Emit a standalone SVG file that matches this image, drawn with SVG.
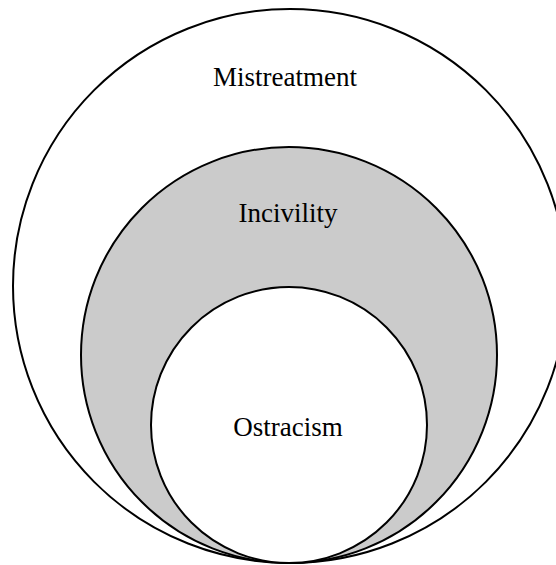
<svg xmlns="http://www.w3.org/2000/svg" width="556" height="565" viewBox="0 0 556 565">
<style>
.c{stroke:#000;stroke-width:2}
.t{font-family:"Liberation Serif","Times New Roman",serif;font-size:27px;fill:#000;text-anchor:middle}
</style>
<rect width="556" height="565" fill="#fff"/>
<g id="mistreatment">
<circle class="c" cx="290" cy="286" r="277" fill="#fff"/>
<text class="t" x="285" y="86">Mistreatment</text>
</g>
<g id="incivility">
<circle class="c" cx="289" cy="355" r="208" fill="#cbcbcb"/>
<text class="t" x="288" y="222">Incivility</text>
</g>
<g id="ostracism">
<circle class="c" cx="289" cy="425" r="138" fill="#fff"/>
<text class="t" x="288" y="436">Ostracism</text>
</g>
<g id="connectors"></g>
</svg>
